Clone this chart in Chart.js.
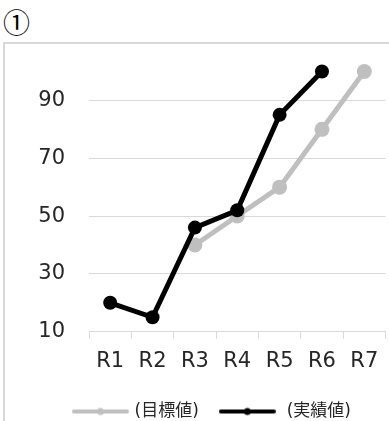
<!DOCTYPE html>
<html>
<head>
<meta charset="utf-8">
<script src="https://cdn.jsdelivr.net/npm/chart.js@4.4.1/dist/chart.umd.min.js"></script>
<style>
html, body { margin: 0; padding: 0; width: 389px; height: 421px; overflow: hidden; background: #fff; }
#num { position: absolute; left: 3px; top: 4px; font: 27px "Noto Sans CJK JP"; line-height: 36px; color: #000; }
#frameL { position: absolute; left: 3px; top: 42px; width: 2px; height: 400px; background: #d9d9d9; }
#frameT { position: absolute; left: 3px; top: 42px; width: 400px; height: 2px; background: #d9d9d9; }
#wrap { position: absolute; left: 5px; top: 44px; width: 388px; height: 386px; }
</style>
</head>
<body>
<div id="num">①</div>
<div id="frameL"></div>
<div id="frameT"></div>
<div id="wrap"><canvas id="chart" width="388" height="386"></canvas></div>
<script>
var categories = ['R1', 'R2', 'R3', 'R4', 'R5', 'R6', 'R7'];
var targetValues = [null, null, 40, 50, 60, 80, 100];
var actualValues = [20, 15, 46, 52, 85, 100, null];
var yTicks = [10, 30, 50, 70, 90];
var seriesNames = ['(目標値)', ' (実績値)'];

// small line+dot picture for the legend
function legendMark(color) {
    var c = document.createElement('canvas');
    c.width = 57; c.height = 10;
    var g = c.getContext('2d');
    g.strokeStyle = color; g.lineWidth = 4; g.lineCap = 'round';
    g.beginPath(); g.moveTo(2, 5); g.lineTo(55, 5); g.stroke();
    g.fillStyle = color;
    g.beginPath(); g.arc(28.5, 5, 3.5, 0, Math.PI * 2); g.fill();
    return c;
}
var marks = [legendMark('#000000'), legendMark('#bfbfbf')];

var tickFont = 'DejaVu Sans';

// legend starts under the plot, not at the canvas edge
var legendShift = {
    id: 'legendShift',
    afterLayout: function (chart) {
        chart.legend.left += 47;
        chart.legend.right += 47;
    }
};

new Chart(document.getElementById('chart'), {
    type: 'line',
    data: {
        labels: categories,
        datasets: [{
                label: seriesNames[1],
                data: actualValues,
                borderColor: '#000000',
                backgroundColor: '#000000',
                borderWidth: 5,
                pointRadius: 7,
                pointHoverRadius: 7,
                pointBorderWidth: 0,
                clip: false
            },
            {
                label: seriesNames[0],
                data: targetValues,
                borderColor: '#bfbfbf',
                backgroundColor: '#bfbfbf',
                borderWidth: 5,
                pointRadius: 7.5,
                pointHoverRadius: 7.5,
                pointBorderWidth: 0,
                clip: false
            }
        ]
    },
    options: {
        responsive: false,
        animation: false,
        layout: { padding: { left: 0, top: 27.5, right: 0, bottom: 0 } },
        scales: {
            x: {
                offset: true,
                grid: { offset: true, drawOnChartArea: false, drawTicks: true, tickLength: 7, color: '#d9d9d9' },
                border: { color: '#d9d9d9', width: 1 },
                ticks: { font: { family: tickFont, size: 21 }, color: '#262626', padding: 10, maxRotation: 0, autoSkip: false },
                afterFit: function (s) { s.height = 48.3; }
            },
            y: {
                min: 10,
                max: 100,
                afterBuildTicks: function (s) { s.ticks = yTicks.map(function (v) { return { value: v }; }); },
                grid: { color: '#d9d9d9', drawTicks: false },
                border: { display: false },
                ticks: { font: { family: tickFont, size: 21 }, color: '#262626', padding: 24 },
                afterFit: function (s) { s.width = 84; s.paddingTop = 0; s.paddingBottom = 0; }
            }
        },
        plugins: {
            tooltip: { enabled: false },
            legend: {
                position: 'bottom',
                align: 'start',
                reverse: true,
                labels: {
                    usePointStyle: true,
                    pointStyleWidth: 51,
                    padding: 23,
                    color: '#262626',
                    font: { family: 'DejaVu Sans, "Noto Sans CJK JP"', size: 17 },
                    generateLabels: function (chart) {
                        var items = Chart.defaults.plugins.legend.labels.generateLabels(chart);
                        items.forEach(function (it) { it.pointStyle = marks[it.datasetIndex]; });
                        return items;
                    }
                }
            }
        }
    },
    plugins: [legendShift]
});
</script>
</body>
</html>
